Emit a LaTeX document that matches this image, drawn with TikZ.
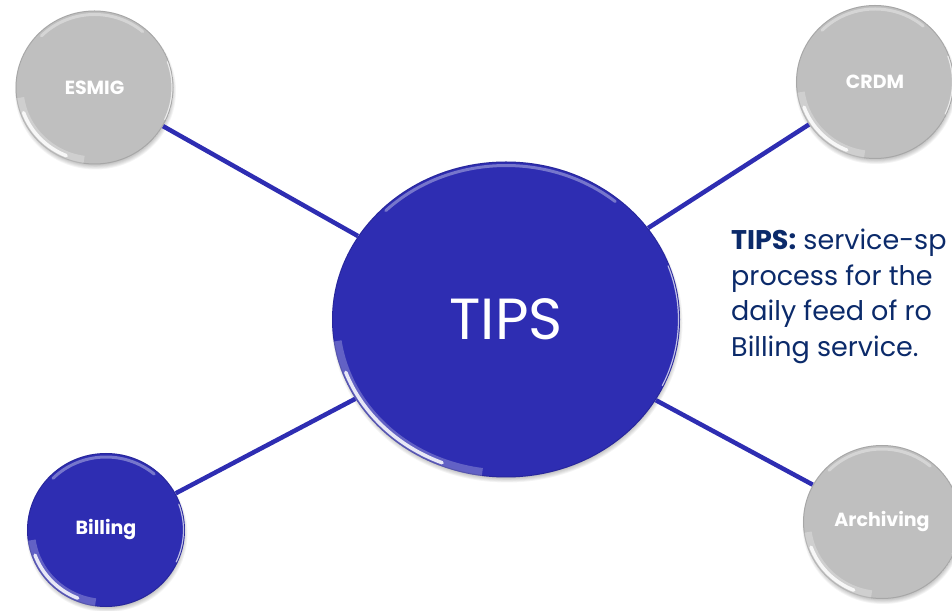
\documentclass[tikz,border=0pt]{standalone}
\usepackage{fontspec}
\setmainfont{Poppins}
\usetikzlibrary{shapes.geometric}
\definecolor{tipsblue}{HTML}{2E2DB2}
\definecolor{bubblegrey}{HTML}{BFBFBF}
\definecolor{navytext}{HTML}{0B2A6A}
\tikzset{
  bubble/.style={ellipse, inner sep=0pt, minimum width=158pt, minimum height=154pt,
    font=\fontsize{19}{21}\selectfont\bfseries, text=white},
  greybubble/.style={bubble, fill=bubblegrey},
  bluebubble/.style={bubble, fill=tipsblue},
  connector/.style={draw=tipsblue, line width=4.5pt},
  shadowlayer/.style={fill=black, opacity=0.045},
}
\newcommand\bubbleshadow[4]{%
  \foreach \k in {0,...,6}{\fill[shadowlayer] (#1+1,#2-3.5) ellipse[x radius=#3+1.5-\k*0.9, y radius=#4+1.5-\k*0.9];}}
\newcommand\bubblegloss[3]{%
  \begin{scope}
    \clip (#1.center) ellipse[x radius=#2, y radius=#3];
    \draw[white, line width=8pt, opacity=0.25] (#1.center) ++(188:{#2-4} and {#3-4}) arc[start angle=188, end angle=262, x radius=#2-4, y radius=#3-4];
    \draw[white, line width=3.5pt, opacity=0.85, line cap=round] (#1.center) ++(200:{#2-3.5} and {#3-3.5}) arc[start angle=200, end angle=248, x radius=#2-3.5, y radius=#3-3.5];
    \draw[white, line width=3pt, opacity=0.35, line cap=round] (#1.center) ++(50:{#2-4} and {#3-4}) arc[start angle=50, end angle=135, x radius=#2-4, y radius=#3-4];
    \draw[white, line width=1.2pt, opacity=0.7, line cap=round] (#1.center) ++(-25:{#2-1.5} and {#3-1.5}) arc[start angle=-25, end angle=20, x radius=#2-1.5, y radius=#3-1.5];
    \draw[black, line width=1pt, opacity=0.12] (#1.center) ellipse[x radius=#2-0.5, y radius=#3-0.5];
  \end{scope}}
\begin{document}
\begin{tikzpicture}[x=1pt, y=1pt]
  \useasboundingbox (0,0) rectangle (952,610);
  % shadows
  \bubbleshadow{94.5}{522.5}{79}{77}
  \bubbleshadow{875}{528}{79}{77}
  \bubbleshadow{506}{290.5}{174}{158}
  \bubbleshadow{106}{80}{79}{77}
  \bubbleshadow{882}{88}{79}{77}
  % bubbles
  \node[greybubble] (esmig) at (94.5,522.5) {ESMIG};
  \node[greybubble] (crdm) at (875,528) {CRDM};
  \node[bluebubble, minimum width=348pt, minimum height=316pt, font=\fontsize{58}{58}\selectfont] (tips) at (506,290.5) {TIPS};
  \node[bluebubble] (billing) at (106,80) {Billing};
  \node[greybubble] (archiving) at (882,88) {Archiving};
  % gloss
  \bubblegloss{esmig}{79}{77}
  \bubblegloss{crdm}{79}{77}
  \bubblegloss{tips}{174}{158}
  \bubblegloss{billing}{79}{77}
  \bubblegloss{archiving}{79}{77}
  % connectors
  \draw[connector] (esmig) -- (tips);
  \draw[connector] (crdm) -- (tips);
  \draw[connector] (billing) -- (tips);
  \draw[connector] (archiving) -- (tips);
  % description
  \node[anchor=base west, align=left, inner sep=0pt, text=navytext,
        font=\fontsize{27}{35.8}\selectfont] (desc) at (731,253.3)
    {\textbf{TIPS:} service-sp\\process for the\\daily feed of ro\\Billing service.};
\end{tikzpicture}
\end{document}
